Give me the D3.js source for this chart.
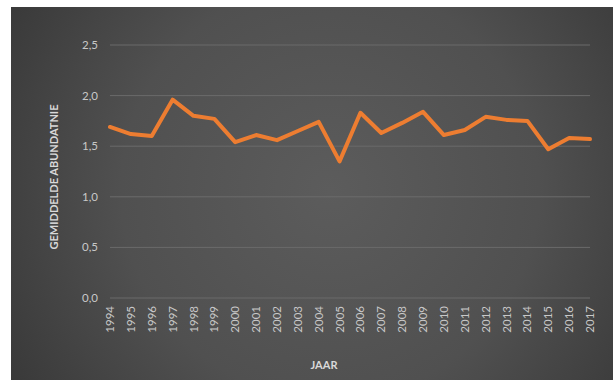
<!DOCTYPE html>
<html><head><meta charset="utf-8">
<script src="https://cdn.jsdelivr.net/npm/d3@7"></script>
<style>html,body{margin:0;padding:0;background:#fff;}svg{display:block;}</style>
</head><body>
<script>
const years = ["1994","1995","1996","1997","1998","1999","2000","2001","2002","2003","2004","2005","2006","2007","2008","2009","2010","2011","2012","2013","2014","2015","2016","2017"];
const values = [1.69,1.62,1.60,1.96,1.80,1.77,1.54,1.61,1.56,1.65,1.74,1.35,1.83,1.63,1.73,1.84,1.61,1.66,1.79,1.76,1.75,1.47,1.58,1.57];
const yTicks = [0,0.5,1.0,1.5,2.0,2.5];
const yTitle = "GEMIDDELDE ABUNDATNIE";
const xTitle = "JAAR";

const W=613,H=380;
const svg=d3.select("body").append("svg").attr("width",W).attr("height",H);
const defs=svg.append("defs");
const rg=defs.append("radialGradient").attr("id","bg").attr("gradientUnits","userSpaceOnUse")
  .attr("cx",330).attr("cy",190).attr("r",380);
rg.append("stop").attr("offset","0%").attr("stop-color","#5c5c5c");
rg.append("stop").attr("offset","55%").attr("stop-color","#505050");
rg.append("stop").attr("offset","100%").attr("stop-color","#383838");
svg.append("rect").attr("x",11).attr("y",7).attr("width",W-11).attr("height",H-7).attr("fill","url(#bg)");

const x=d3.scalePoint().domain(years).range([110,590]);
const y=d3.scaleLinear().domain([0,2.5]).range([298,45]);
const font="Lato, 'Open Sans', sans-serif";

svg.append("g").selectAll("line").data(yTicks).join("line")
  .attr("x1",110).attr("x2",590).attr("y1",d=>y(d)).attr("y2",d=>y(d))
  .attr("stroke","#6b6b6b").attr("stroke-width",1);

const fmt=d=>d3.format(".1f")(d).replace(".",",");
svg.append("g").selectAll("text").data(yTicks).join("text")
  .attr("x",98).attr("y",d=>y(d)).attr("dy","0.35em").attr("text-anchor","end")
  .attr("font-family",font).attr("font-size",11.5).attr("fill","#c8c8c8").text(fmt);

svg.append("g").selectAll("text").data(years).join("text")
  .attr("transform",d=>`translate(${x(d)},306) rotate(-90)`)
  .attr("dy","0.35em").attr("text-anchor","end")
  .attr("font-family",font).attr("font-size",11.5).attr("fill","#c8c8c8").text(d=>d);

const line=d3.line().x((d,i)=>x(years[i])).y(d=>y(d));
svg.append("path").datum(values).attr("d",line).attr("fill","none")
  .attr("stroke","#ED7D31").attr("stroke-width",4).attr("stroke-linejoin","round").attr("stroke-linecap","round");

svg.append("text").attr("transform","translate(54,177) rotate(-90)").attr("dy","0.35em")
  .attr("text-anchor","middle").attr("font-family",font).attr("font-weight","bold")
  .attr("font-size",11).attr("fill","#d9d9d9").text(yTitle);
svg.append("text").attr("x",324).attr("y",365).attr("dy","0.35em")
  .attr("text-anchor","middle").attr("font-family",font).attr("font-weight","bold")
  .attr("font-size",11).attr("fill","#d9d9d9").text(xTitle);
</script>
</body></html>
